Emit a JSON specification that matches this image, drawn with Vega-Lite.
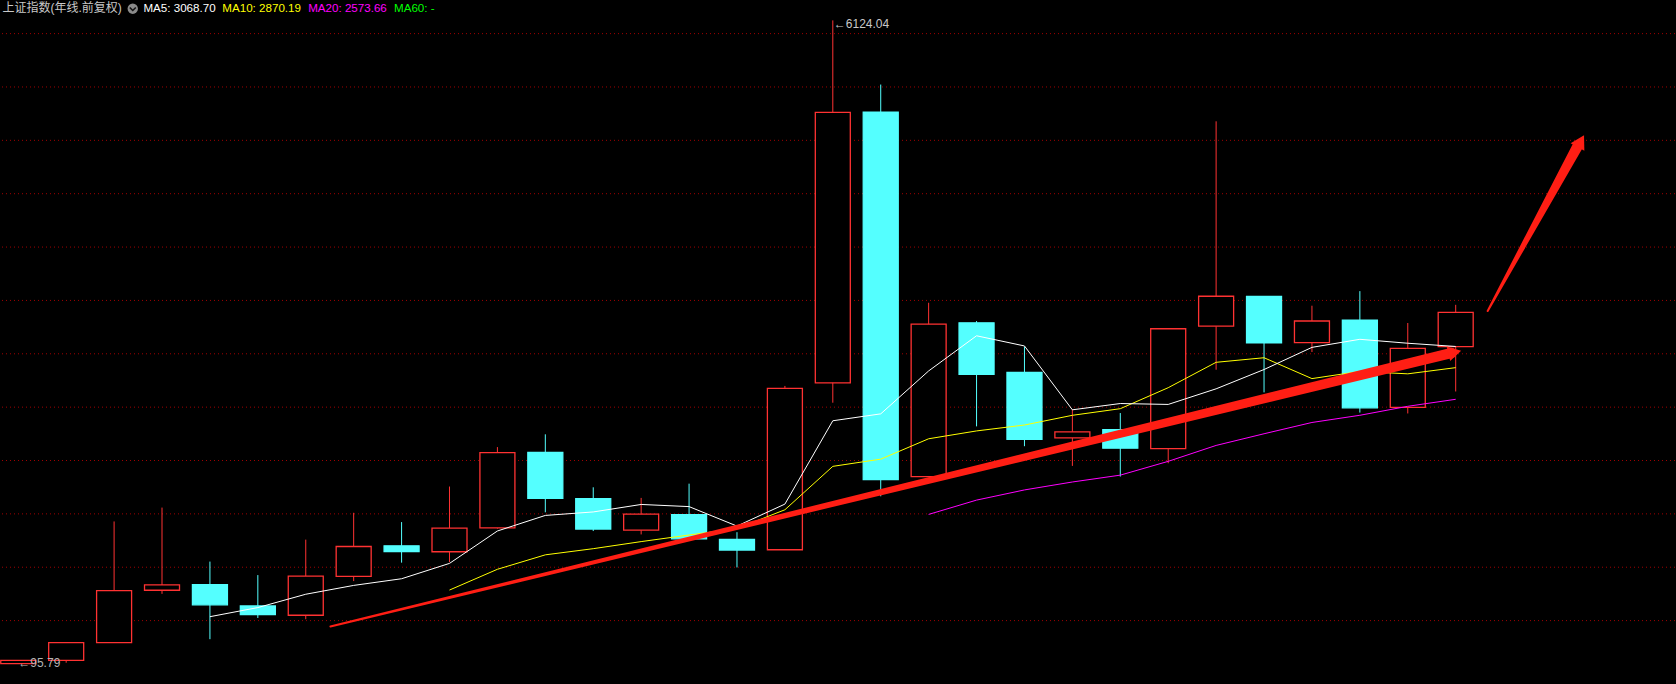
{
  "$schema": "https://vega.github.io/schema/vega-lite/v6.json",
  "width": 1676,
  "height": 684,
  "autosize": {"type": "fit", "contains": "padding"},
  "padding": 0,
  "background": "#000000",
  "config": {"view": {"stroke": null}, "axis": {"disable": true}, "scale": {"continuousPadding": 0}},
  "datasets": {
    "one": [{}],
    "grid": [{"v": 500}, {"v": 1000}, {"v": 1500}, {"v": 2000}, {"v": 2500}, {"v": 3000}, {"v": 3500}, {"v": 4000}, {"v": 4500}, {"v": 5000}, {"v": 5500}, {"v": 6000}],
    "candles": [
      {"year": 1990, "open": 96.05, "high": 127.61, "low": 95.79, "close": 127.61, "ma5": null, "ma10": null, "ma20": null},
      {"year": 1991, "open": 127.61, "high": 292.75, "low": 104.96, "close": 292.75, "ma5": null, "ma10": null, "ma20": null},
      {"year": 1992, "open": 293.74, "high": 1429.01, "low": 292.76, "close": 780.39, "ma5": null, "ma10": null, "ma20": null},
      {"year": 1993, "open": 784.13, "high": 1558.95, "low": 750.46, "close": 833.80, "ma5": null, "ma10": null, "ma20": null},
      {"year": 1994, "open": 837.70, "high": 1052.94, "low": 325.89, "close": 647.87, "ma5": 536.48, "ma10": null, "ma20": null},
      {"year": 1995, "open": 637.72, "high": 926.41, "low": 524.43, "close": 555.29, "ma5": 622.02, "ma10": null, "ma20": null},
      {"year": 1996, "open": 550.26, "high": 1258.69, "low": 512.83, "close": 917.01, "ma5": 746.87, "ma10": null, "ma20": null},
      {"year": 1997, "open": 914.06, "high": 1510.18, "low": 870.18, "close": 1194.10, "ma5": 829.61, "ma10": null, "ma20": null},
      {"year": 1998, "open": 1200.95, "high": 1422.98, "low": 1043.02, "close": 1146.70, "ma5": 892.19, "ma10": null, "ma20": null},
      {"year": 1999, "open": 1144.89, "high": 1756.18, "low": 1047.83, "close": 1366.58, "ma5": 1035.94, "ma10": 786.21, "ma20": null},
      {"year": 2000, "open": 1368.69, "high": 2125.72, "low": 1361.21, "close": 2073.48, "ma5": 1339.57, "ma10": 980.80, "ma20": null},
      {"year": 2001, "open": 2077.08, "high": 2245.43, "low": 1514.86, "close": 1645.97, "ma5": 1485.37, "ma10": 1116.12, "ma20": null},
      {"year": 2002, "open": 1643.48, "high": 1748.89, "low": 1339.20, "close": 1357.65, "ma5": 1518.08, "ma10": 1173.85, "ma20": null},
      {"year": 2003, "open": 1347.43, "high": 1649.60, "low": 1307.40, "close": 1497.04, "ma5": 1588.14, "ma10": 1240.17, "ma20": null},
      {"year": 2004, "open": 1492.72, "high": 1783.01, "low": 1259.43, "close": 1266.50, "ma5": 1568.13, "ma10": 1302.03, "ma20": null},
      {"year": 2005, "open": 1260.78, "high": 1328.53, "low": 998.23, "close": 1161.06, "ma5": 1385.64, "ma10": 1362.61, "ma20": null},
      {"year": 2006, "open": 1163.88, "high": 2698.90, "low": 1161.91, "close": 2675.47, "ma5": 1591.54, "ma10": 1538.46, "ma20": null},
      {"year": 2007, "open": 2728.19, "high": 6124.04, "low": 2541.53, "close": 5261.56, "ma5": 2372.33, "ma10": 1945.20, "ma20": null},
      {"year": 2008, "open": 5265.00, "high": 5522.78, "low": 1664.93, "close": 1820.81, "ma5": 2437.08, "ma10": 2012.61, "ma20": null},
      {"year": 2009, "open": 1849.02, "high": 3478.01, "low": 1844.09, "close": 3277.14, "ma5": 2839.21, "ma10": 2203.67, "ma20": 1494.94},
      {"year": 2010, "open": 3289.75, "high": 3306.75, "low": 2319.74, "close": 2808.08, "ma5": 3168.61, "ma10": 2277.13, "ma20": 1628.96},
      {"year": 2011, "open": 2825.33, "high": 3067.46, "low": 2134.02, "close": 2199.42, "ma5": 3073.40, "ma10": 2332.47, "ma20": 1724.30},
      {"year": 2012, "open": 2212.00, "high": 2478.38, "low": 1949.46, "close": 2269.13, "ma5": 2474.92, "ma10": 2423.62, "ma20": 1798.73},
      {"year": 2013, "open": 2289.51, "high": 2444.80, "low": 1849.65, "close": 2115.98, "ma5": 2533.95, "ma10": 2485.52, "ma20": 1862.84},
      {"year": 2014, "open": 2112.13, "high": 3239.36, "low": 1974.38, "close": 3234.68, "ma5": 2525.46, "ma10": 2682.33, "ma20": 1992.18},
      {"year": 2015, "open": 3258.63, "high": 5178.19, "low": 2850.71, "close": 3539.18, "ma5": 2671.68, "ma10": 2920.15, "ma20": 2141.38},
      {"year": 2016, "open": 3536.59, "high": 3538.69, "low": 2638.30, "close": 3103.64, "ma5": 2852.52, "ma10": 2962.96, "ma20": 2250.71},
      {"year": 2017, "open": 3105.31, "high": 3450.49, "low": 3016.53, "close": 3307.17, "ma5": 3060.13, "ma10": 2767.52, "ma20": 2356.36},
      {"year": 2018, "open": 3314.03, "high": 3587.03, "low": 2449.20, "close": 2493.90, "ma5": 3135.71, "ma10": 2834.83, "ma20": 2423.72},
      {"year": 2019, "open": 2497.88, "high": 3288.45, "low": 2440.91, "close": 3050.12, "ma5": 3098.80, "ma10": 2812.13, "ma20": 2507.90},
      {"year": 2020, "open": 3066.34, "high": 3458.79, "low": 2646.80, "close": 3388.67, "ma5": 3068.70, "ma10": 2870.19, "ma20": 2573.66}
    ],
    "arrows": [
      {"arrow": "a", "year": 1996.515, "value": 444.7, "t": 0},
      {"arrow": "a", "year": 2019.91, "value": 3007.4, "t": 1},
      {"arrow": "b", "year": 2020.667, "value": 3400.9, "t": 0},
      {"arrow": "b", "year": 2022.535, "value": 4937.6, "t": 1}
    ]
  },
  "layer": [
    {
      "data": {"name": "grid"},
      "mark": {"type": "rule", "color": "#A00000", "strokeDash": [1, 3], "strokeWidth": 1},
      "encoding": {
        "y": {"field": "v", "type": "quantitative", "scale": {"domain": [-94.1, 6315.0], "nice": false, "zero": false, "padding": 0}}
      }
    },
    {
      "data": {"name": "candles"},
      "mark": {"type": "rule", "strokeWidth": 1},
      "encoding": {
        "x": {"field": "year", "type": "quantitative", "scale": {"domain": [1989.6604, 2024.5771], "nice": false, "zero": false, "padding": 0}},
        "y": {"field": "low", "type": "quantitative", "scale": {"domain": [-94.1, 6315.0], "nice": false, "zero": false, "padding": 0}},
        "y2": {"field": "high"},
        "color": {"condition": {"test": "datum.close >= datum.open", "value": "#FF3232"}, "value": "#54FFFF"}
      }
    },
    {
      "data": {"name": "candles"},
      "mark": {"type": "bar", "width": 35, "strokeWidth": 1.3},
      "encoding": {
        "x": {"field": "year", "type": "quantitative", "scale": {"domain": [1989.6604, 2024.5771], "nice": false, "zero": false, "padding": 0}},
        "y": {"field": "open", "type": "quantitative", "scale": {"domain": [-94.1, 6315.0], "nice": false, "zero": false, "padding": 0}},
        "y2": {"field": "close"},
        "fill": {"condition": {"test": "datum.close >= datum.open", "value": "#000000"}, "value": "#54FFFF"},
        "stroke": {"condition": {"test": "datum.close >= datum.open", "value": "#FF3232"}, "value": "#54FFFF"}
      }
    },
    {
      "data": {"name": "candles"},
      "transform": [{"filter": "datum.ma20 != null"}],
      "mark": {"type": "line", "color": "#FF00FF", "strokeWidth": 1},
      "encoding": {
        "x": {"field": "year", "type": "quantitative"},
        "y": {"field": "ma20", "type": "quantitative"}
      }
    },
    {
      "data": {"name": "candles"},
      "transform": [{"filter": "datum.ma10 != null"}],
      "mark": {"type": "line", "color": "#FFFF00", "strokeWidth": 1},
      "encoding": {
        "x": {"field": "year", "type": "quantitative"},
        "y": {"field": "ma10", "type": "quantitative"}
      }
    },
    {
      "data": {"name": "candles"},
      "transform": [{"filter": "datum.ma5 != null"}],
      "mark": {"type": "line", "color": "#FFFFFF", "strokeWidth": 1},
      "encoding": {
        "x": {"field": "year", "type": "quantitative"},
        "y": {"field": "ma5", "type": "quantitative"}
      }
    },
    {
      "data": {"name": "arrows"},
      "mark": {"type": "trail", "color": "#FF1E14"},
      "encoding": {
        "x": {"field": "year", "type": "quantitative"},
        "y": {"field": "value", "type": "quantitative"},
        "size": {"field": "t", "type": "quantitative", "scale": {"domain": [0, 1], "range": [2, 10.5]}, "legend": null},
        "detail": {"field": "arrow", "type": "nominal"}
      }
    },
    {
      "data": {"name": "one"},
      "mark": {"type": "point", "shape": "triangle-up", "filled": true, "size": 230, "angle": 76.3, "color": "#FF1E14", "opacity": 1},
      "encoding": {
        "x": {"datum": 2019.981, "type": "quantitative"},
        "y": {"datum": 3014.9, "type": "quantitative"}
      }
    },
    {
      "data": {"name": "one"},
      "mark": {"type": "point", "shape": "triangle-up", "filled": true, "size": 245, "angle": 28.8, "color": "#FF1E14", "opacity": 1},
      "encoding": {
        "x": {"datum": 2022.6104, "type": "quantitative"},
        "y": {"datum": 4992.9, "type": "quantitative"}
      }
    },
    {
      "data": {"name": "one"},
      "mark": {"type": "text", "text": "←6124.04", "color": "#C8C8C8", "align": "left", "baseline": "middle", "fontSize": 12, "font": "Liberation Sans, DejaVu Sans", "dx": 1, "dy": 4},
      "encoding": {
        "x": {"datum": 2007, "type": "quantitative"},
        "y": {"datum": 6124.04, "type": "quantitative"}
      }
    },
    {
      "data": {"name": "one"},
      "mark": {"type": "text", "text": "←95.79", "color": "#B4B4B4", "align": "left", "baseline": "middle", "fontSize": 12, "font": "Liberation Sans, DejaVu Sans", "dx": 0, "dy": -1},
      "encoding": {
        "x": {"datum": 1990, "type": "quantitative"},
        "y": {"datum": 95.79, "type": "quantitative"}
      }
    },
    {
      "data": {"name": "one"},
      "mark": {"type": "text", "text": "上证指数(年线.前复权)", "color": "#C8C8C8", "align": "left", "baseline": "alphabetic", "fontSize": 12, "font": "Liberation Sans, Noto Sans CJK SC"},
      "encoding": {
        "x": {"datum": 1989.6708, "type": "quantitative"},
        "y": {"datum": 6197.9, "type": "quantitative"}
      }
    },
    {
      "data": {"name": "one"},
      "mark": {"type": "point", "shape": "circle", "filled": true, "size": 108, "color": "#8A8A8A", "opacity": 1},
      "encoding": {
        "x": {"datum": 1992.3896, "type": "quantitative"},
        "y": {"datum": 6233.5, "type": "quantitative"}
      }
    },
    {
      "data": {"name": "one"},
      "mark": {"type": "point", "shape": "M-0.6,-0.25L0,0.35L0.6,-0.25", "filled": false, "size": 100, "stroke": "#141414", "strokeWidth": 1.6, "opacity": 1},
      "encoding": {
        "x": {"datum": 1992.3896, "type": "quantitative"},
        "y": {"datum": 6233.5, "type": "quantitative"}
      }
    },
    {
      "data": {"name": "one"},
      "mark": {"type": "text", "text": "MA5: 3068.70", "color": "#FFFFFF", "align": "left", "baseline": "alphabetic", "fontSize": 11.6, "font": "Liberation Sans"},
      "encoding": {
        "x": {"datum": 1992.6125, "type": "quantitative"},
        "y": {"datum": 6197.9, "type": "quantitative"}
      }
    },
    {
      "data": {"name": "one"},
      "mark": {"type": "text", "text": "MA10: 2870.19", "color": "#FFFF00", "align": "left", "baseline": "alphabetic", "fontSize": 11.6, "font": "Liberation Sans"},
      "encoding": {
        "x": {"datum": 1994.2583, "type": "quantitative"},
        "y": {"datum": 6197.9, "type": "quantitative"}
      }
    },
    {
      "data": {"name": "one"},
      "mark": {"type": "text", "text": "MA20: 2573.66", "color": "#FF00FF", "align": "left", "baseline": "alphabetic", "fontSize": 11.6, "font": "Liberation Sans"},
      "encoding": {
        "x": {"datum": 1996.05, "type": "quantitative"},
        "y": {"datum": 6197.9, "type": "quantitative"}
      }
    },
    {
      "data": {"name": "one"},
      "mark": {"type": "text", "text": "MA60: -", "color": "#00FF00", "align": "left", "baseline": "alphabetic", "fontSize": 11.6, "font": "Liberation Sans"},
      "encoding": {
        "x": {"datum": 1997.8417, "type": "quantitative"},
        "y": {"datum": 6197.9, "type": "quantitative"}
      }
    }
  ]
}
